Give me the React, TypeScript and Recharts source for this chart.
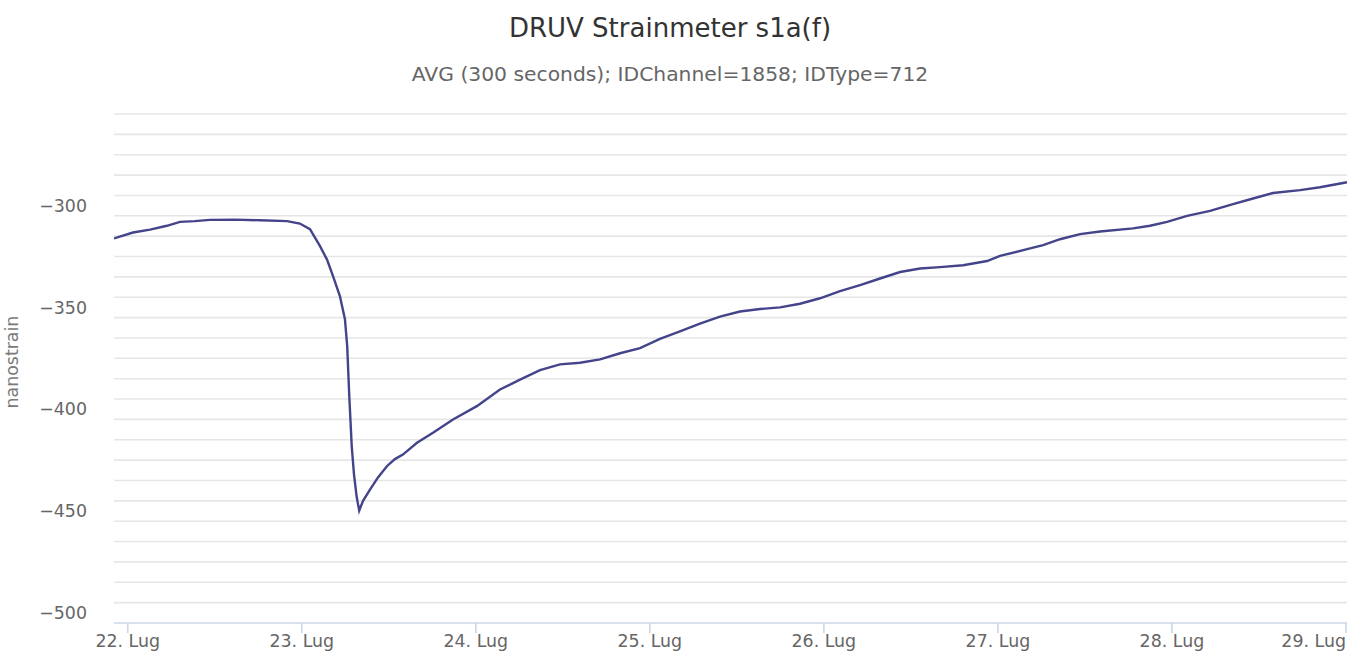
import { Line, LineChart, ReferenceLine, XAxis, YAxis } from "recharts";

// days since 22 Lug 00:00
const days = [
  -0.079, 0.03, 0.128, 0.225, 0.3, 0.386, 0.472, 0.616, 0.76, 0.915, 0.989,
  1.047, 1.104, 1.145, 1.179, 1.219, 1.248, 1.261, 1.273, 1.287, 1.3, 1.315,
  1.33, 1.352, 1.392, 1.438, 1.489, 1.535, 1.581, 1.662, 1.754, 1.869, 2.006,
  2.139, 2.254, 2.369, 2.484, 2.599, 2.714, 2.829, 2.944, 3.058, 3.173, 3.288,
  3.403, 3.518, 3.633, 3.748, 3.863, 3.978, 4.093, 4.208, 4.323, 4.438, 4.553,
  4.668, 4.8, 4.938, 5.012, 5.168, 5.26, 5.357, 5.472, 5.587, 5.777, 5.874,
  5.972, 6.087, 6.219, 6.351, 6.466, 6.581, 6.736, 6.851, 6.983, 7.006,
];

const strain = [
  -316.1, -313.2, -311.8, -309.9, -308.0, -307.6, -307.0, -306.9, -307.2,
  -307.6, -308.8, -311.6, -319.8, -326.5, -334.5, -344.4, -355.8, -369.0,
  -393.6, -418.2, -432.0, -442.8, -449.8, -445.0, -439.5, -433.5, -428.0,
  -424.5, -422.3, -416.5, -411.6, -405.0, -398.5, -390.3, -385.5, -380.8,
  -378.0, -377.2, -375.5, -372.5, -370.0, -365.5, -361.8, -358.0, -354.5,
  -352.0, -350.8, -350.0, -348.2, -345.5, -342.0, -339.0, -335.8, -332.6,
  -330.9, -330.2, -329.3, -327.2, -324.7, -321.4, -319.4, -316.5, -314.0,
  -312.7, -311.2, -309.9, -308.0, -305.0, -302.6, -299.3, -296.5, -293.8,
  -292.4, -291.0, -288.9, -288.5,
];

const dayTicks = [0, 1, 2, 3, 4, 5, 6, 7];
const startDay = 22;
const monthLabel = "Lug";
const yTicks = [-500, -450, -400, -350, -300];
const gridValues = [
  -495, -485, -475, -465, -455, -445, -435, -425, -415, -405, -395, -385,
  -375, -365, -355, -345, -335, -325, -315, -305, -295, -285, -275, -265,
  -255,
];

const data = days.map((d, i) => ({ day: d, strain: strain[i] }));

const font = "'DejaVu Sans', sans-serif";

const DayTick = (props: any) => {
  const { x, y, payload } = props;
  const last = payload.value === dayTicks[dayTicks.length - 1];
  return (
    <text
      x={last ? 1346 : x}
      y={y}
      dy="0.71em"
      textAnchor={last ? "end" : "middle"}
      fill="#666666"
      fontSize={17.4}
      fontFamily={font}
    >
      {`${startDay + payload.value}. ${monthLabel}`}
    </text>
  );
};

const App = () => {
  return (
    <div
      style={{
        position: "absolute",
        left: 0,
        top: 0,
        width: 1347,
        height: 659,
        background: "#fff",
        fontFamily: font,
      }}
    >
      <div
        style={{
          position: "absolute",
          top: 12,
          left: 0,
          width: 1340,
          textAlign: "center",
          fontSize: 26,
          color: "#333333",
          lineHeight: "32px",
        }}
      >
        DRUV Strainmeter s1a(f)
      </div>
      <div
        style={{
          position: "absolute",
          top: 62,
          left: 0,
          width: 1340,
          textAlign: "center",
          fontSize: 20.3,
          color: "#666666",
          lineHeight: "24px",
        }}
      >
        AVG (300 seconds); IDChannel=1858; IDType=712
      </div>
      <LineChart
        width={1347}
        height={659}
        data={data}
        margin={{ top: 114, right: 0, bottom: 0, left: 0 }}
      >
        {gridValues.map((g) => (
          <ReferenceLine key={g} y={g} stroke="#e6e6e6" strokeWidth={1.6} />
        ))}
        <XAxis
          type="number"
          dataKey="day"
          domain={[-0.079, 7.006]}
          ticks={dayTicks}
          height={36}
          stroke="#ccd6eb"
          strokeWidth={1.6}
          tickSize={10}
          tick={<DayTick />}
          allowDataOverflow
        />
        <YAxis
          type="number"
          domain={[-505, -255]}
          ticks={yTicks}
          width={114}
          axisLine={false}
          tickLine={false}
          tickSize={0}
          tickMargin={27}
          tickFormatter={(v: number) => String(v).replace("-", "\u2212")}
          tick={{ fill: "#666666", fontSize: 17.4, fontFamily: font }}
          allowDataOverflow
          label={{
            value: "nanostrain",
            angle: -90,
            position: "insideLeft",
            offset: 0,
            dx: 12,
            dy: 40,
            fill: "#7a7a7a",
            fontSize: 17.4,
            fontFamily: font,
          }}
        />
        <Line
          type="linear"
          dataKey="strain"
          stroke="#44448a"
          strokeWidth={2.4}
          dot={false}
          isAnimationActive={false}
        />
      </LineChart>
    </div>
  );
};

export default App;
